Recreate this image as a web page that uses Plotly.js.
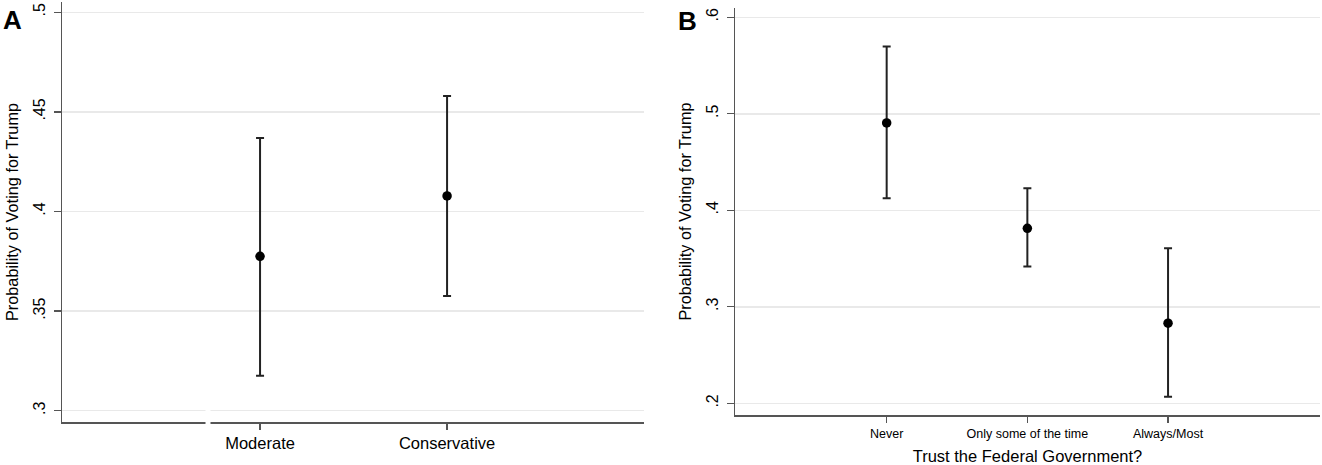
<!DOCTYPE html>
<html>
<head>
<meta charset="utf-8">
<script src="https://cdn.plot.ly/plotly-3.0.1.min.js"></script>
<style>html,body{margin:0;padding:0;background:#fff}#chart{width:1322px;height:465px}</style>
</head>
<body>
<div id="chart"></div>
<script>
// Panel A data
const catsA = ["Moderate", "Conservative"];
const posA = [2, 3];
const ptA = [0.3775, 0.4078];
const loA = [0.3175, 0.3576];
const hiA = [0.4369, 0.4580];
const yTickValsA = [0.3, 0.35, 0.4, 0.45, 0.5];
const yTickTextA = [".3", ".35", ".4", ".45", ".5"];

// Panel B data
const catsB = ["Never", "Only some of the time", "Always/Most"];
const posB = [1, 2, 3];
const ptB = [0.4905, 0.3813, 0.2830];
const loB = [0.4124, 0.3417, 0.2069];
const hiB = [0.5696, 0.4228, 0.3606];
const yTickValsB = [0.2, 0.3, 0.4, 0.5, 0.6];
const yTickTextB = [".2", ".3", ".4", ".5", ".6"];

const yTitle = "Probability of Voting for Trump";
const xTitleB = "Trust the Federal Government?";

const W = 1322, H = 465;
const fontFam = "Arial, 'Liberation Sans', sans-serif";
const axisCol = "#555555";
const gridCol = "#e9e9e9";

function trace(x, pt, lo, hi, xa, ya) {
  return {
    type: "scatter", mode: "markers", x: x, y: pt, xaxis: xa, yaxis: ya,
    marker: {color: "#000", size: 9.5},
    error_y: {type: "data", symmetric: false,
      array: hi.map((h, i) => h - pt[i]),
      arrayminus: lo.map((l, i) => pt[i] - l),
      color: "#222", thickness: 2, width: 4},
    showlegend: false, hoverinfo: "skip"
  };
}

const data = [
  trace(posA, ptA, loA, hiA, "x", "y"),
  trace(posB, ptB, loB, hiB, "x2", "y2")
];

function yaxis(domain, range, tv, tt, anchor, titleStd) {
  return {
    domain: domain, range: range, anchor: anchor,
    tickvals: tv, ticktext: tt, tickangle: -90,
    ticks: "outside", ticklen: 7, tickwidth: 1.3, tickcolor: axisCol,
    tickfont: {family: fontFam, size: 16, color: "#000"},
    showline: true, linecolor: axisCol, linewidth: 1.5,
    showgrid: true, gridcolor: gridCol, gridwidth: 1.5,
    zeroline: false, ticklabelstandoff: 2,
    title: {text: yTitle, font: {family: fontFam, size: 16.3, color: "#000"}, standoff: titleStd}
  };
}

function xaxis(domain, range, tv, tt, anchor, fs, title) {
  const ax = {
    domain: domain, range: range, anchor: anchor,
    tickvals: tv, ticktext: tt, tickangle: 0,
    ticks: "outside", ticklen: 6, tickwidth: 1.3, tickcolor: axisCol,
    tickfont: {family: fontFam, size: fs, color: "#000"},
    showline: true, linecolor: axisCol, linewidth: 1.5,
    showgrid: false, zeroline: false
  };
  if (title) ax.title = {text: title, font: {family: fontFam, size: 16.5, color: "#000"}, standoff: 11};
  return ax;
}

const layout = {
  width: W, height: H,
  margin: {l: 0, r: 0, t: 0, b: 0},
  paper_bgcolor: "#fff", plot_bgcolor: "#fff",
  xaxis: xaxis([62 / W, 644 / W], [0.941, 4.053], posA, catsA, "y", 16.5, null),
  yaxis: yaxis([(H - 422) / H, (H - 2) / H], [0.29434, 0.50516], yTickValsA, yTickTextA, "x", 8),
  xaxis2: xaxis([735 / W, 1320 / W], [-0.078, 4.08], posB, catsB, "y2", 12.5, xTitleB),
  yaxis2: yaxis([(H - 415) / H, (H - 8) / H], [0.18788, 0.6096], yTickValsB, yTickTextB, "x2", 8),
  shapes: [
    {type: "rect", xref: "paper", yref: "paper",
     x0: 205.5 / W, x1: 210.5 / W, y0: (H - 426) / H, y1: (H - 407) / H,
     fillcolor: "#fff", line: {width: 0}, layer: "above"}
  ],
  annotations: [
    {text: "<b>A</b>", xref: "paper", yref: "paper", x: 1 / W, y: (H - 3) / H,
     xanchor: "left", yanchor: "top", showarrow: false,
     font: {family: fontFam, size: 26, color: "#000"}},
    {text: "<b>B</b>", xref: "paper", yref: "paper", x: 676 / W, y: (H - 4) / H,
     xanchor: "left", yanchor: "top", showarrow: false,
     font: {family: fontFam, size: 26, color: "#000"}}
  ]
};

Plotly.newPlot("chart", data, layout, {staticPlot: true, displayModeBar: false});
</script>
</body>
</html>
